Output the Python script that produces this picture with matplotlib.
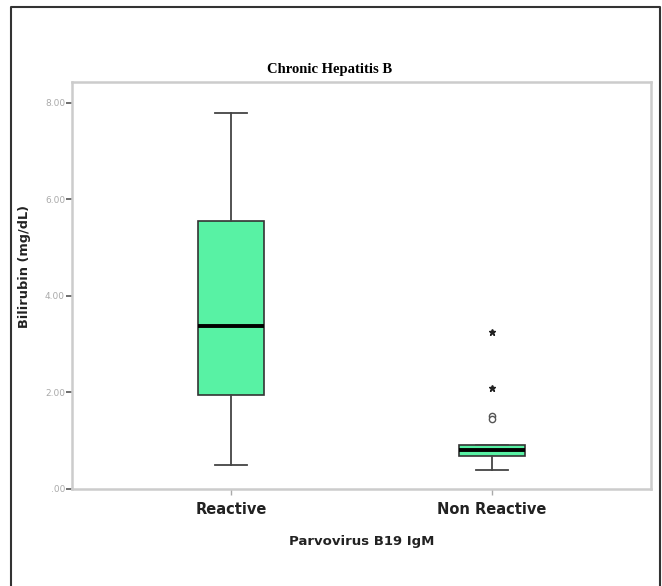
import matplotlib
matplotlib.use("Agg")
import matplotlib.pyplot as plt
from matplotlib.lines import Line2D

# values (mg/dL)
groups = ["Reactive", "Non Reactive"]
whisker_low = [0.50, 0.39]
q1 = [1.94, 0.68]
median = [3.37, 0.81]
q3 = [5.56, 0.91]
whisker_high = [7.79, 0.91]
circle_outliers = [[], [1.51, 1.45]]
star_outliers = [[], [3.26, 2.09]]
yticks = [0, 2, 4, 6, 8]
ytick_labels = [".00", "2.00", "4.00", "6.00", "8.00"]

W, H = 662, 586
fig = plt.figure(figsize=(W / 100, H / 100), dpi=100)
ax = fig.add_axes([72 / W, 1 - 489 / H, (651 - 72) / W, (489 - 82) / H])

stats = []
for i, g in enumerate(groups):
    stats.append(dict(label=g, whislo=whisker_low[i], q1=q1[i], med=median[i],
                      q3=q3[i], whishi=whisker_high[i], fliers=[]))

positions = [1, 2]
ax.bxp(stats, positions=positions, widths=0.25, patch_artist=True,
       showfliers=False,
       boxprops=dict(facecolor="#58f2a4", edgecolor="#333333", linewidth=1.2),
       medianprops=dict(color="black", linewidth=2.8),
       whiskerprops=dict(color="#444444", linewidth=1.3),
       capprops=dict(color="#444444", linewidth=1.3),
       capwidths=0.125)

for p, vals in zip(positions, circle_outliers):
    ax.plot([p] * len(vals), vals, "o", mfc="white", mec="#555555", ms=4.5, mew=1)
for p, vals in zip(positions, star_outliers):
    ax.plot([p] * len(vals), vals, "*", color="#222222", ms=5)

ax.set_xlim(0.39, 2.61)
ax.set_ylim(0, 8.43)
ax.set_yticks(yticks)
ax.set_yticklabels(ytick_labels, fontsize=6.5, color="#aaaaaa")
ax.set_xticks(positions)
ax.set_xticklabels(groups, fontsize=10.5, fontweight="bold", color="#222222")
ax.tick_params(axis="y", length=4, width=1.2, color="#555555", pad=1)
ax.tick_params(axis="x", length=4, width=1, color="#aaaaaa", pad=5)
for s in ax.spines.values():
    s.set_color("#cccccc")
    s.set_linewidth(1.8)

fig.text(330 / W, 1 - 70 / H, "Chronic Hepatitis B", ha="center", va="center",
         fontsize=10.5, fontweight="bold", family="Liberation Serif")
fig.text(25 / W, 1 - 267 / H, "Bilirubin (mg/dL)", rotation=90, ha="center",
         va="center", fontsize=9.3, fontweight="bold", color="#222222")
fig.text(362 / W, 1 - 542 / H, "Parvovirus B19 IgM", ha="center", va="center",
         fontsize=9.5, fontweight="bold", color="#222222")

# outer frame
fx = [11 / W, 11 / W, 660 / W, 660 / W]
fy = [0, 1 - 7 / H, 1 - 7 / H, 0]
fig.add_artist(Line2D(fx, fy, color="#333333", linewidth=1.5))

fig.savefig("out.png", dpi=100)
